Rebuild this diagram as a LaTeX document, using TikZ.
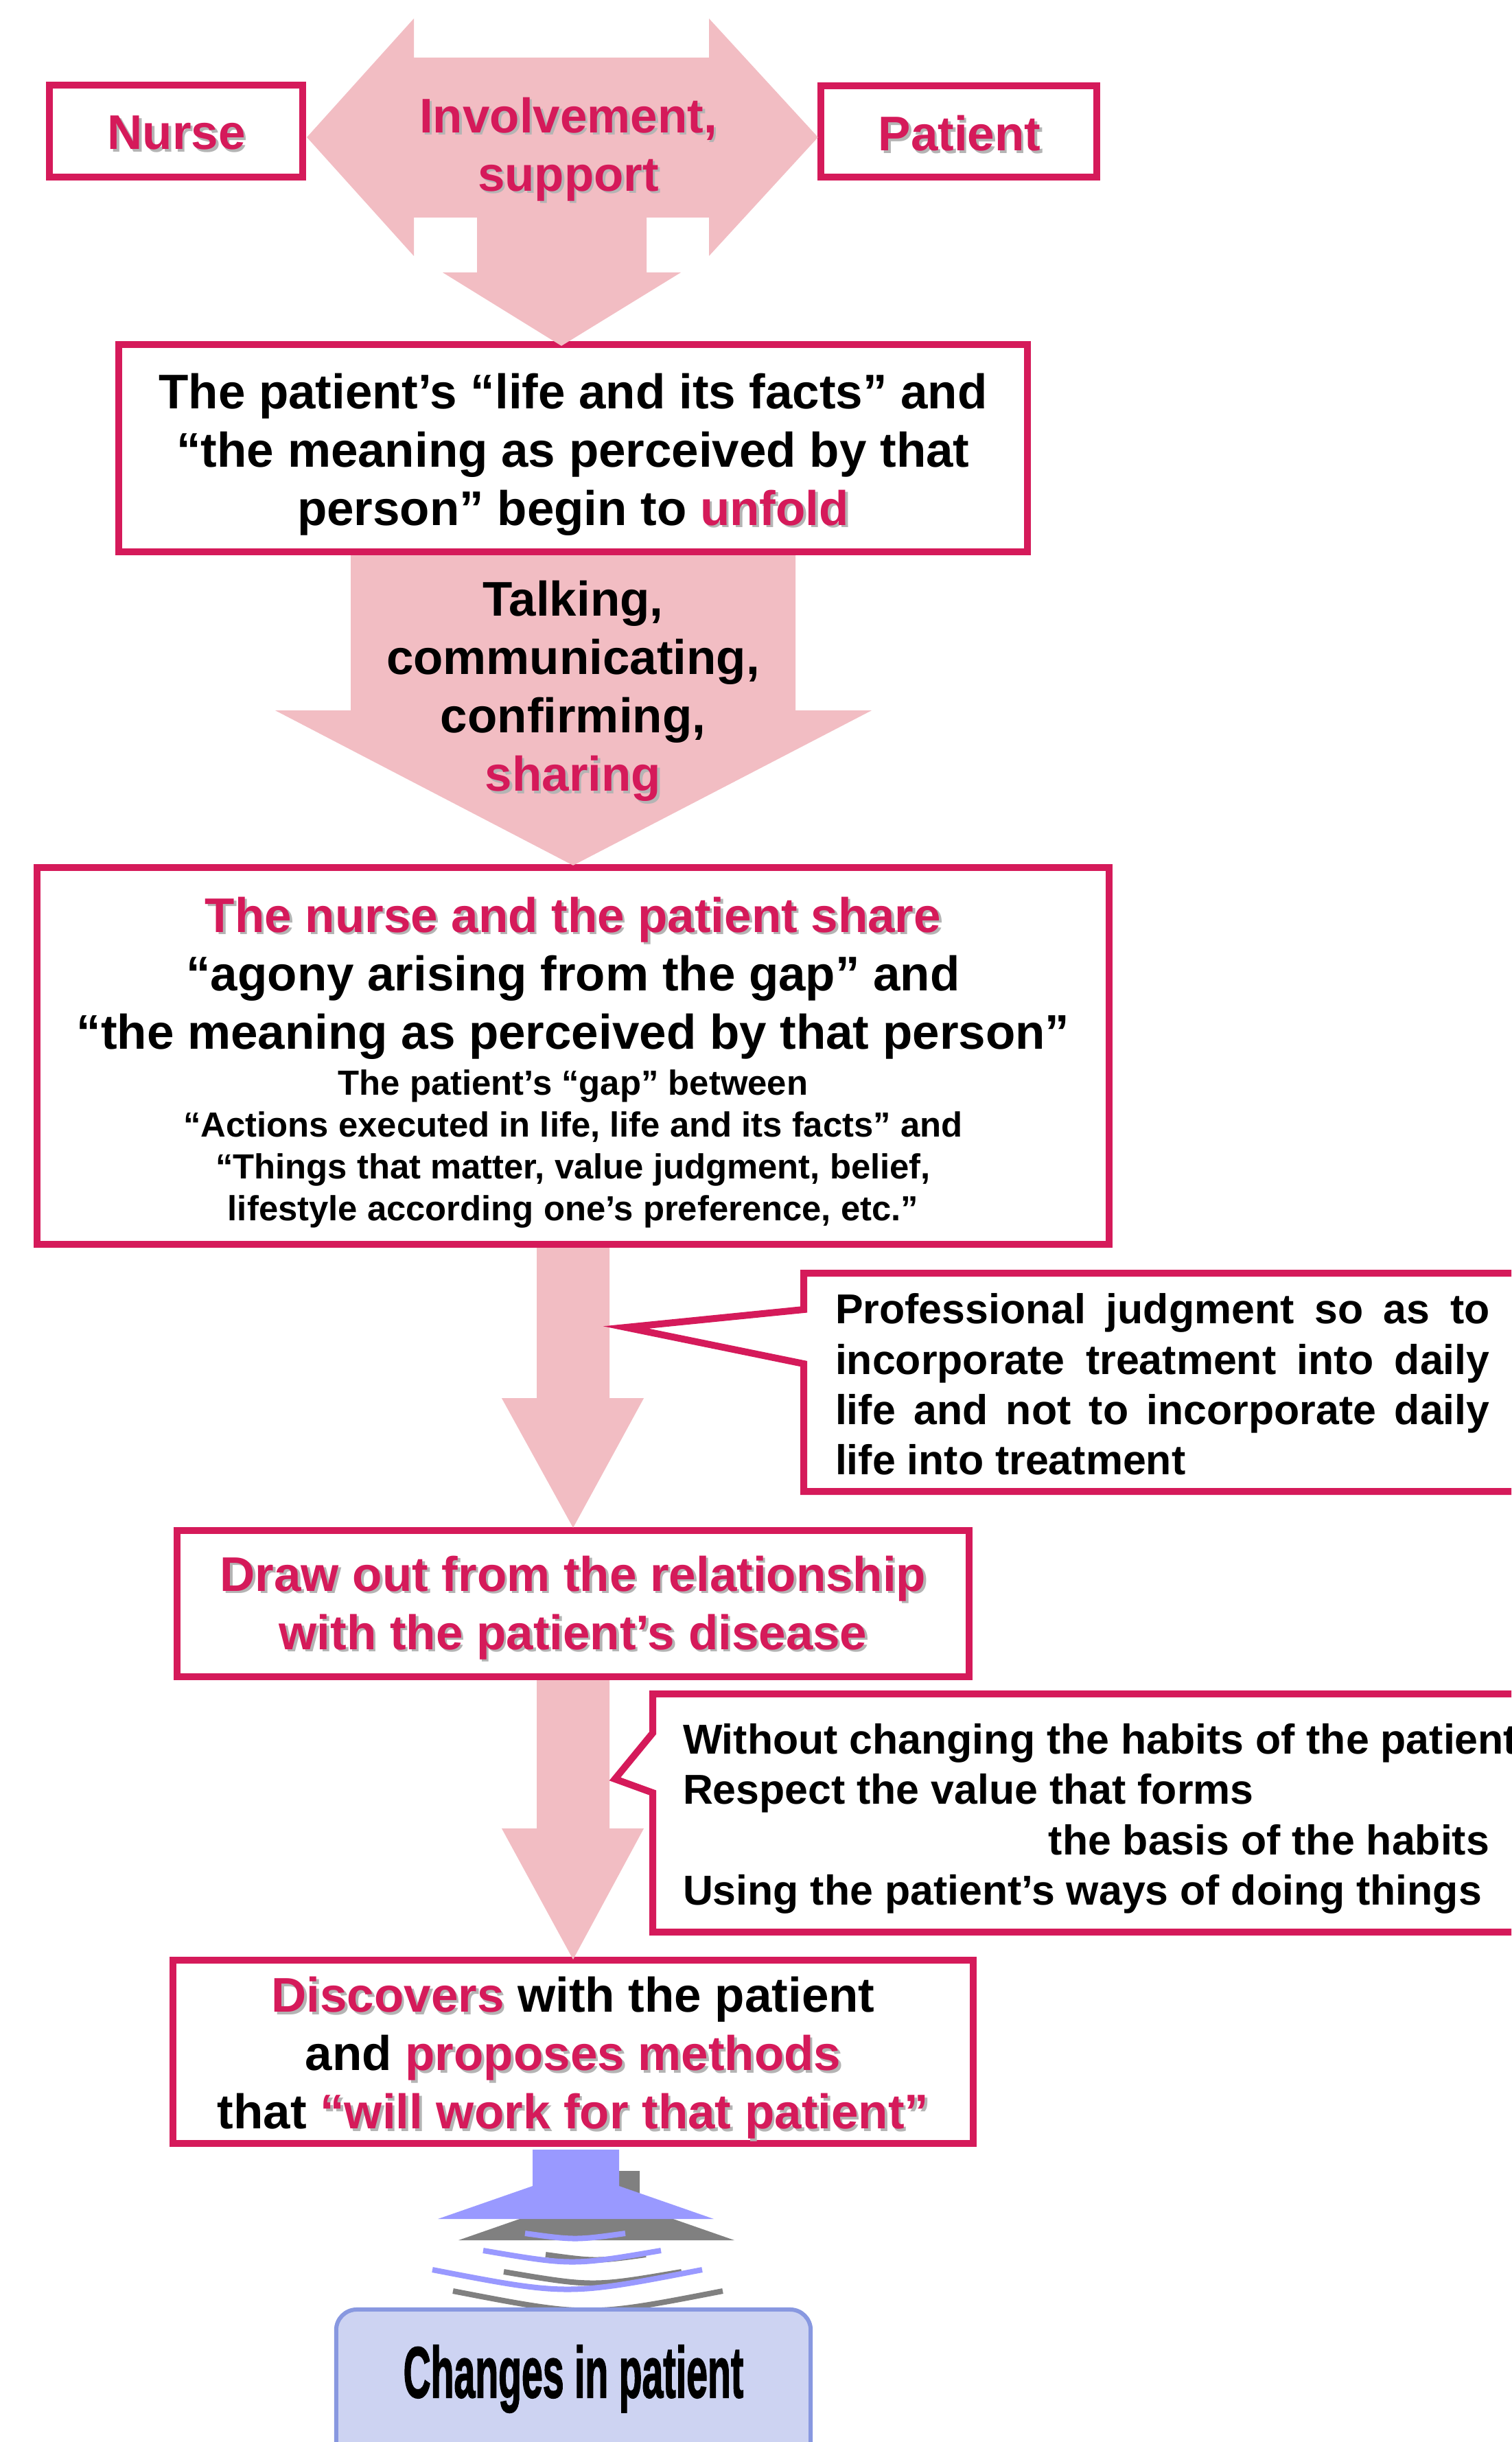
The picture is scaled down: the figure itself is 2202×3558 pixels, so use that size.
\documentclass[tikz,border=0pt]{standalone}
\usepackage{fontspec}
\setmainfont{Liberation Sans}
\newfontfamily\chfont[FakeBold=2]{Liberation Sans Bold}
\usetikzlibrary{calc}
\definecolor{pk}{HTML}{D51A5A}
\definecolor{apk}{HTML}{F2BDC3}
\definecolor{shd}{HTML}{B4B4B4}
\definecolor{lampblue}{HTML}{9999FF}
\definecolor{lampgray}{HTML}{808080}
\definecolor{chfill}{HTML}{CDD3F2}
\definecolor{chdraw}{HTML}{8898E0}
\newcommand\pk[1]{\leavevmode\rlap{\kern0.05em\raisebox{-0.05em}{\textcolor{shd}{#1}}}\textcolor{pk}{#1}}
\newcommand\mainfs{\fontsize{20.17pt}{24.18pt}\selectfont\bfseries}
\newcommand\smallfs{\fontsize{14.45pt}{17.35pt}\selectfont\bfseries}
\newcommand\callfs{\fontsize{17.3pt}{20.8pt}\selectfont\bfseries}
\begin{document}
\begin{tikzpicture}[x=0.01cm,y=-0.01cm,
  box/.style={draw=pk,fill=white,line width=0.1cm,outer sep=0pt,inner sep=0pt},
  txt/.style={inner sep=0pt,outer sep=0pt,align=center,font=\mainfs},
  calltxt/.style={inner sep=0pt,outer sep=0pt,anchor=base west,font=\callfs},
  callout/.style={draw=pk,fill=white,line width=0.1cm,miter limit=10},
  blockarrow/.style={fill=apk},
  lampstroke/.style={line width=0.08cm}
]
\path[use as bounding box] (0,0) rectangle (2202,3558);
\clip (0,0) rectangle (2202,3558);
\fill[white] (0,0) rectangle (2202,3558);

% boxes
\node[box,minimum width=3.69cm,minimum height=1.34cm] (nurse) at (256.5,191) {};
\node[txt] (nursetxt) at (257,195.5) {\pk{Nurse}};
\node[box,minimum width=4.02cm,minimum height=1.33cm] (patient) at (1397,191.5) {};
\node[txt] (patienttxt) at (1398,196) {\pk{Patient}};
\node[box,minimum width=13.23cm,minimum height=3.02cm] (box1) at (835,653) {};
\node[txt] (box1txt) at (835,662)
  {The patient’s “life and its facts” and\\“the meaning as perceived by that\\person” begin to \pk{unfold}};
\node[box,minimum width=15.62cm,minimum height=5.49cm] (box3) at (835,1538.5) {};
\node[box,minimum width=11.54cm,minimum height=2.13cm] (box4) at (835,2336.5) {};
\node[txt] (box4txt) at (835,2344)
  {\pk{Draw out from the relationship}\\\pk{with the patient’s disease}};
\node[box,minimum width=11.66cm,minimum height=2.67cm] (box5) at (835,2989.5) {};
\node[txt] (box5txt) at (835,3000)
  {\pk{Discovers} with the patient\\and \pk{proposes methods}\\that \pk{“will work for that patient”}};

% top double arrow with downward branch
\fill[blockarrow] ($(nurse.east)+(6,9)$) -- (603,27) -- (603,84) -- (1033,84) -- (1033,27)
  -- ($(patient.west)+(-4,8.5)$) -- (1033,373) -- (1033,317) -- (942,317) -- (942,397) -- (992,397)
  -- ($(box1.north)+(-17,2)$) -- (645,397) -- (695,397) -- (695,317) -- (603,317) -- (603,373) -- cycle;
\node[txt] (inv) at (828,219) {\pk{Involvement,}\\\pk{support}};

% arrow 2
\fill[blockarrow] ($(box1.south)+(-324,5)$) -- ($(box1.south)+(324,5)$) -- ($(box1.south)+(324,231)$)
  -- ($(box1.south)+(435,231)$) -- ($(box3.north)+(0,-3)$) -- ($(box1.south)+(-434,231)$)
  -- ($(box1.south)+(-324,231)$) -- cycle;
\node[txt] (talk) at (835,1009) {Talking,\\communicating,\\confirming,\\\pk{sharing}};

% box 3 texts
\node[txt] (b3big) at (835,1425) {\pk{The nurse and the patient share}\\“agony arising from the gap” and\\“the meaning as perceived by that person”};
\node[txt,font=\smallfs] (b3small) at (835,1673.5) {The patient’s “gap” between\\“Actions executed in life, life and its facts” and\\“Things that matter, value judgment, belief,\\lifestyle according one’s preference, etc.”};

% arrow 3
\fill[blockarrow] ($(box3.south)+(-53,5)$) -- ($(box3.south)+(53,5)$) -- ($(box3.south)+(53,224)$)
  -- ($(box3.south)+(103,224)$) -- ($(box4.north)+(0,-4)$) -- ($(box3.south)+(-104,224)$)
  -- ($(box3.south)+(-53,224)$) -- cycle;
% arrow 4
\fill[blockarrow] ($(box4.south)+(-53,5)$) -- ($(box4.south)+(53,5)$) -- ($(box4.south)+(53,221)$)
  -- ($(box4.south)+(103,221)$) -- ($(box5.north)+(0,-1)$) -- ($(box4.south)+(-104,221)$)
  -- ($(box4.south)+(-53,221)$) -- cycle;

% callout 1
\draw[callout] (2260,1855) -- (1171,1855) -- (1171,1908) -- (912,1934) -- (1171,1987) -- (1171,2173) -- (2260,2173) -- cycle;
\node[calltxt] (c1a) at (1217,1928) {\makebox[9.53cm][s]{Professional judgment so as to}};
\node[calltxt] (c1b) at (1217,2002) {\makebox[9.53cm][s]{incorporate treatment into daily}};
\node[calltxt] (c1c) at (1217,2075) {\makebox[9.53cm][s]{life and not to incorporate daily}};
\node[calltxt] (c1d) at (1217,2148) {life into treatment};

% callout 2
\draw[callout] (2260,2468) -- (951,2468) -- (951,2525) -- (896,2592) -- (951,2612) -- (951,2815) -- (2260,2815) -- cycle;
\node[calltxt] (c2a) at (995,2555) {Without changing the habits of the patient};
\node[calltxt] (c2b) at (995,2628) {Respect the value that forms};
\node[calltxt,anchor=base east] (c2c) at (2170,2702) {the basis of the habits};
\node[calltxt] (c2d) at (995,2775) {Using the patient’s ways of doing things};

% lamp icon with shadow
\begin{scope}[shift={(30,31)},color=lampgray]
  \fill (776,3132) -- (902,3132) -- (902,3185) -- (1040,3233) -- (638,3233) -- (776,3185) -- cycle;
  \draw[lampstroke] (765,3254) .. controls (838,3264) .. (911,3254);
  \draw[lampstroke] (704,3279) .. controls (834,3301) .. (963,3279);
  \draw[lampstroke] (630,3307) .. controls (827,3345) .. (1023,3307);
\end{scope}
\begin{scope}[color=lampblue]
  \fill (776,3132) -- (902,3132) -- (902,3185) -- (1040,3233) -- (638,3233) -- (776,3185) -- cycle;
  \draw[lampstroke] (765,3254) .. controls (838,3264) .. (911,3254);
  \draw[lampstroke] (704,3279) .. controls (834,3301) .. (963,3279);
  \draw[lampstroke] (630,3307) .. controls (827,3345) .. (1023,3307);
\end{scope}

% result box
\node[draw=chdraw,fill=chfill,line width=0.06cm,rounded corners=0.3cm,minimum width=6.91cm,minimum height=2.5cm,inner sep=0pt,outer sep=0pt] (chbox) at (835.5,3490) {};
\node[inner sep=0pt,font=\fontsize{29.9pt}{36pt}\selectfont\chfont] (chtxt) at (835.5,3466) {\scalebox{0.527}[1]{Changes in patient}};
\end{tikzpicture}
\end{document}
